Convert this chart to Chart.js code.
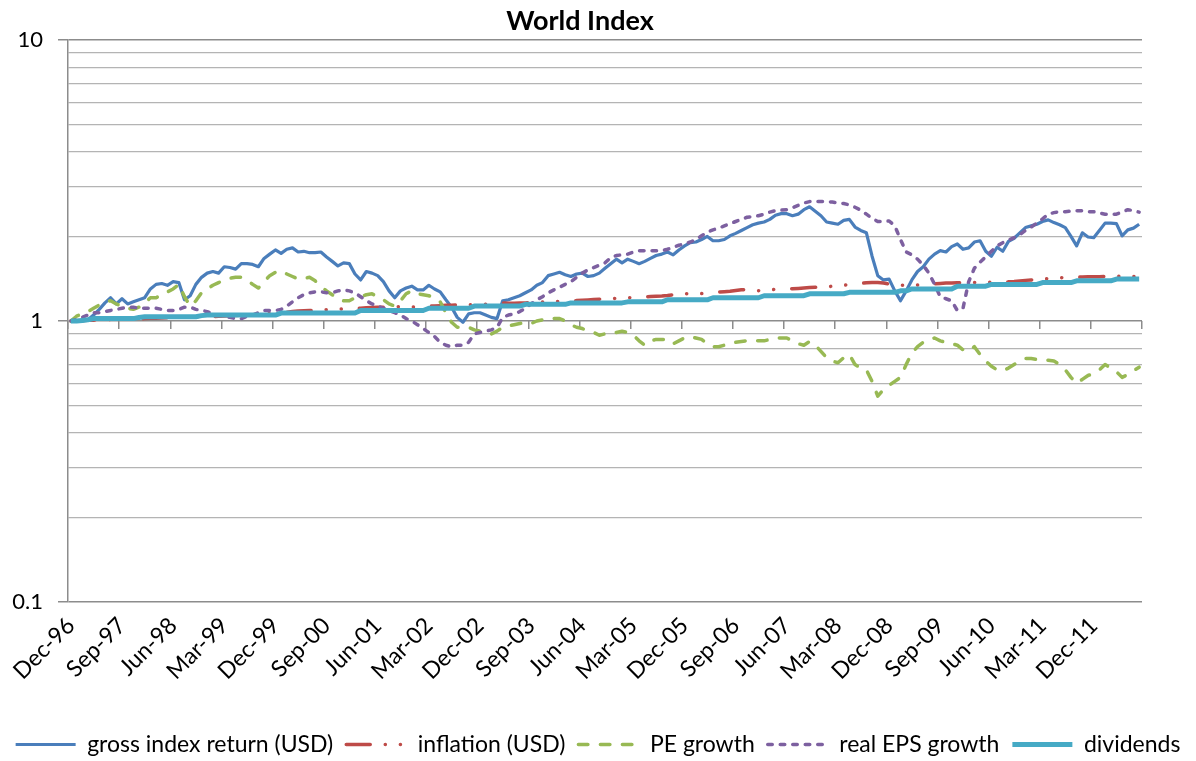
<!DOCTYPE html>
<html>
<head>
<meta charset="utf-8">
<title>World Index</title>
<script src="https://cdn.jsdelivr.net/npm/chart.js@4.4.1/dist/chart.umd.min.js"></script>
<style>
  html, body { margin: 0; padding: 0; background: #fff; }
  #wrap { position: relative; width: 1196px; height: 761px; }
  #title {
    position: absolute; left: 0; top: 4px; width: 1160px;
    text-align: center; font: bold 27px Lato, sans-serif; line-height: 32px; color: #000;
  }
</style>
</head>
<body>
<div id="wrap">
  <div id="title">World Index</div>
  <canvas id="chart"></canvas>
</div>
<script>
// Monthly categories, Dec-96 .. Aug-12 (189 months)
const MON = ['Jan','Feb','Mar','Apr','May','Jun','Jul','Aug','Sep','Oct','Nov','Dec'];
const months = [];
for (let i = 0; i < 189; i++) {
  const m = (11 + i) % 12, yr = (96 + Math.floor((11 + i) / 12)) % 100;
  months.push(MON[m] + '-' + String(yr).padStart(2, '0'));
}
// labels shown under the axis (every 9th month)
const shownMonths = ['Dec-96','Sep-97','Jun-98','Mar-99','Dec-99','Sep-00','Jun-01','Mar-02','Dec-02','Sep-03',
  'Jun-04','Mar-05','Dec-05','Sep-06','Jun-07','Mar-08','Dec-08','Sep-09','Jun-10','Mar-11','Dec-11'];

// log axis gridlines and the ones that carry a label
const yGrid = [0.1,0.2,0.3,0.4,0.5,0.6,0.7,0.8,0.9,1,2,3,4,5,6,7,8,9,10];
const yLabelled = [0.1, 1, 10];

// series (index, Dec-96 = 1)
const grossReturn = [
  1.00,1.00,1.00,1.01,1.05,1.10,1.16,1.21,1.15,1.20,1.15,1.17,
  1.19,1.21,1.30,1.35,1.36,1.34,1.38,1.37,1.19,1.23,1.35,1.43,
  1.48,1.50,1.48,1.56,1.55,1.53,1.60,1.60,1.59,1.56,1.67,1.73,
  1.79,1.74,1.80,1.82,1.76,1.77,1.75,1.75,1.76,1.69,1.63,1.57,
  1.61,1.60,1.47,1.40,1.50,1.48,1.45,1.38,1.28,1.21,1.28,1.31,
  1.33,1.29,1.29,1.34,1.30,1.27,1.19,1.12,1.03,0.99,1.06,1.07,
  1.07,1.05,1.03,1.02,1.18,1.19,1.21,1.23,1.26,1.29,1.34,1.37,
  1.45,1.47,1.49,1.46,1.44,1.47,1.48,1.44,1.45,1.48,1.54,1.60,
  1.66,1.61,1.66,1.63,1.60,1.63,1.67,1.71,1.73,1.76,1.72,1.79,
  1.85,1.90,1.91,1.95,2.00,1.93,1.93,1.95,2.01,2.05,2.10,2.15,
  2.20,2.23,2.25,2.30,2.38,2.41,2.41,2.37,2.40,2.49,2.55,2.46,
  2.37,2.25,2.23,2.21,2.28,2.30,2.16,2.10,2.06,1.70,1.45,1.40,
  1.41,1.28,1.18,1.28,1.40,1.50,1.56,1.66,1.73,1.78,1.76,1.84,
  1.88,1.80,1.82,1.91,1.93,1.77,1.70,1.83,1.77,1.92,1.97,2.06,
  2.15,2.18,2.21,2.26,2.29,2.24,2.20,2.15,2.00,1.85,2.06,1.99,
  1.98,2.10,2.23,2.23,2.22,2.01,2.11,2.14,2.21
];
const inflation = [
  1.000,1.003,1.005,1.006,1.007,1.008,1.010,1.012,1.014,1.016,1.017,1.017,
  1.018,1.020,1.022,1.023,1.025,1.027,1.028,1.030,1.031,1.032,1.033,1.034,
  1.035,1.037,1.039,1.042,1.045,1.047,1.049,1.051,1.053,1.056,1.059,1.063,
  1.067,1.070,1.074,1.080,1.085,1.087,1.090,1.092,1.095,1.097,1.100,1.102,
  1.104,1.106,1.108,1.110,1.114,1.118,1.120,1.120,1.121,1.123,1.124,1.122,
  1.122,1.123,1.125,1.129,1.131,1.134,1.137,1.138,1.140,1.141,1.142,1.143,
  1.145,1.147,1.150,1.155,1.158,1.157,1.156,1.158,1.160,1.163,1.166,1.168,
  1.170,1.172,1.175,1.178,1.180,1.182,1.185,1.188,1.192,1.196,1.199,1.200,
  1.204,1.207,1.210,1.212,1.215,1.219,1.222,1.225,1.228,1.233,1.240,1.248,
  1.250,1.250,1.249,1.252,1.256,1.263,1.268,1.272,1.277,1.285,1.292,1.290,
  1.285,1.282,1.284,1.290,1.296,1.300,1.302,1.303,1.306,1.310,1.315,1.318,
  1.320,1.323,1.330,1.335,1.340,1.347,1.353,1.360,1.368,1.372,1.370,1.365,
  1.355,1.345,1.340,1.340,1.342,1.343,1.345,1.350,1.355,1.360,1.364,1.366,
  1.368,1.369,1.370,1.372,1.372,1.373,1.373,1.374,1.375,1.378,1.382,1.388,
  1.395,1.400,1.405,1.410,1.415,1.420,1.425,1.428,1.430,1.432,1.434,1.436,
  1.437,1.438,1.440,1.441,1.442,1.441,1.440,1.440,1.442
];
const peGrowth = [
  1.00,1.04,1.06,1.08,1.11,1.14,1.17,1.18,1.15,1.13,1.11,1.10,
  1.12,1.16,1.21,1.21,1.24,1.27,1.30,1.35,1.22,1.13,1.18,1.26,
  1.30,1.34,1.37,1.40,1.42,1.43,1.43,1.40,1.35,1.31,1.38,1.45,
  1.49,1.51,1.47,1.44,1.41,1.42,1.43,1.39,1.33,1.28,1.24,1.20,
  1.18,1.18,1.21,1.22,1.24,1.25,1.22,1.19,1.15,1.13,1.18,1.25,
  1.28,1.25,1.24,1.23,1.21,1.17,1.07,0.99,0.95,0.95,0.95,0.93,
  0.92,0.91,0.90,0.92,0.95,0.96,0.97,0.98,0.99,0.98,1.00,1.01,
  1.02,1.02,1.02,1.00,0.97,0.95,0.94,0.92,0.91,0.89,0.90,0.90,
  0.91,0.92,0.91,0.89,0.85,0.82,0.85,0.86,0.86,0.86,0.83,0.85,
  0.87,0.88,0.87,0.86,0.83,0.81,0.81,0.82,0.83,0.84,0.845,0.85,
  0.85,0.85,0.85,0.86,0.87,0.87,0.87,0.85,0.83,0.82,0.845,0.82,
  0.78,0.74,0.72,0.71,0.74,0.76,0.70,0.68,0.67,0.61,0.54,0.57,
  0.59,0.61,0.63,0.70,0.77,0.81,0.84,0.86,0.87,0.85,0.84,0.83,
  0.82,0.79,0.78,0.81,0.76,0.72,0.69,0.67,0.665,0.68,0.70,0.72,
  0.735,0.735,0.73,0.73,0.725,0.72,0.70,0.67,0.63,0.60,0.62,0.64,
  0.65,0.67,0.70,0.68,0.66,0.63,0.645,0.665,0.685
];
const realEps = [
  1.00,1.01,1.03,1.05,1.07,1.07,1.08,1.09,1.10,1.11,1.12,1.12,
  1.11,1.11,1.11,1.11,1.10,1.09,1.09,1.10,1.12,1.12,1.10,1.09,
  1.08,1.06,1.05,1.04,1.03,1.02,1.02,1.04,1.05,1.07,1.09,1.09,
  1.09,1.10,1.13,1.17,1.21,1.24,1.26,1.27,1.27,1.26,1.26,1.28,
  1.29,1.28,1.26,1.22,1.18,1.15,1.13,1.11,1.09,1.07,1.05,1.02,
  1.00,0.97,0.94,0.91,0.88,0.84,0.82,0.81,0.82,0.82,0.84,0.90,
  0.91,0.92,0.93,0.95,1.03,1.05,1.06,1.08,1.11,1.15,1.19,1.22,
  1.26,1.29,1.32,1.35,1.38,1.43,1.48,1.52,1.55,1.58,1.61,1.68,
  1.71,1.72,1.73,1.76,1.78,1.78,1.78,1.78,1.78,1.80,1.83,1.86,
  1.88,1.91,1.95,2.01,2.07,2.11,2.14,2.18,2.22,2.26,2.30,2.34,
  2.35,2.37,2.40,2.44,2.47,2.48,2.49,2.53,2.58,2.63,2.66,2.66,
  2.66,2.66,2.65,2.63,2.62,2.59,2.54,2.48,2.40,2.32,2.26,2.26,
  2.27,2.18,1.95,1.76,1.72,1.66,1.58,1.48,1.35,1.22,1.20,1.18,
  1.09,1.11,1.38,1.54,1.62,1.69,1.77,1.85,1.90,1.94,1.98,2.03,
  2.10,2.16,2.23,2.31,2.40,2.43,2.45,2.45,2.46,2.47,2.47,2.45,
  2.45,2.42,2.40,2.40,2.40,2.44,2.49,2.47,2.44
];
const dividends = [
  1.000,1.000,1.005,1.010,1.020,1.020,1.020,1.020,1.020,1.020,1.020,1.020,
  1.030,1.035,1.035,1.035,1.035,1.035,1.035,1.035,1.035,1.035,1.035,1.045,
  1.050,1.050,1.050,1.050,1.050,1.050,1.050,1.050,1.050,1.050,1.050,1.050,
  1.050,1.067,1.067,1.067,1.067,1.067,1.067,1.067,1.067,1.067,1.067,1.067,
  1.067,1.067,1.067,1.090,1.090,1.090,1.090,1.090,1.090,1.090,1.090,1.090,
  1.090,1.090,1.090,1.110,1.110,1.110,1.110,1.110,1.110,1.110,1.110,1.130,
  1.130,1.130,1.130,1.130,1.130,1.130,1.130,1.130,1.146,1.146,1.146,1.146,
  1.146,1.146,1.146,1.146,1.160,1.160,1.160,1.160,1.160,1.160,1.160,1.160,
  1.160,1.160,1.170,1.170,1.170,1.170,1.170,1.170,1.170,1.190,1.190,1.190,
  1.190,1.190,1.190,1.190,1.190,1.210,1.210,1.210,1.210,1.210,1.210,1.210,
  1.210,1.210,1.230,1.230,1.230,1.230,1.230,1.230,1.230,1.230,1.250,1.250,
  1.250,1.250,1.250,1.250,1.250,1.265,1.265,1.265,1.265,1.265,1.265,1.265,
  1.265,1.265,1.280,1.280,1.300,1.300,1.300,1.300,1.300,1.300,1.300,1.300,
  1.330,1.330,1.330,1.330,1.330,1.330,1.350,1.350,1.350,1.350,1.350,1.350,
  1.350,1.350,1.350,1.370,1.370,1.370,1.370,1.370,1.370,1.390,1.390,1.390,
  1.390,1.390,1.390,1.390,1.410,1.410,1.410,1.410,1.410
];

const FONT = 'Lato';
const AXIS = '#8c8c8c';
const MINOR = '#b4b4b4';
const isMajor = v => yLabelled.includes(v);

const line = (label, data, color, width, dash, order) => ({
  label, data, order,
  borderColor: color, backgroundColor: color,
  borderWidth: width,
  borderDash: dash || [],
  borderCapStyle: dash ? 'round' : 'butt',
  borderJoinStyle: 'round',
  pointRadius: 0, tension: 0, fill: false,
});

// legend samples: take dash / width from the line itself, not from its points
function legendLabels(chart) {
  const items = Chart.defaults.plugins.legend.labels.generateLabels(chart);
  items.forEach(it => {
    const ds = chart.data.datasets[it.datasetIndex];
    it.lineDash = ds.borderDash;
    it.lineWidth = ds.borderWidth;
    it.lineCap = ds.borderCapStyle;
    it.strokeStyle = ds.borderColor;
  });
  return items.sort((a, b) => a.datasetIndex - b.datasetIndex);
}

new Chart(document.getElementById('chart'), {
  type: 'line',
  data: {
    labels: months,
    datasets: [
      // Excel draws the last series on top, so order runs backwards
      line('gross index return (USD)', grossReturn, '#4A7EBB', 3.2, null, 5),
      line('inflation (USD)', inflation, '#BE4B48', 3.5, [24, 15, 0.1, 15, 0.1, 18], 4),
      line('PE growth', peGrowth, '#98B954', 3.5, [9.5, 12.5], 3),
      line('real EPS growth', realEps, '#7D60A0', 3.5, [4.5, 8], 2),
      line('dividends', dividends, '#46AAC5', 5, null, 1),
    ]
  },
  options: {
    responsive: true,
    maintainAspectRatio: false,
    animation: false,
    events: [],
    layout: { padding: { top: 40, bottom: -5, left: 0, right: 0 } },
    plugins: {
      title: { display: false },
      tooltip: { enabled: false },
      legend: {
        position: 'bottom',
        labels: {
          usePointStyle: true,
          pointStyle: 'line',
          pointStyleWidth: 60,
          font: { family: FONT, size: 23 },
          color: '#000',
          padding: 13,
          generateLabels: legendLabels,
        }
      }
    },
    scales: {
      x: {
        type: 'category',
        offset: true,
        grid: { display: false, drawTicks: false },
        border: { display: false },
        ticks: {
          autoSkip: false, minRotation: 45, maxRotation: 45, padding: 10,
          font: { family: FONT, size: 23 }, color: '#000',
          callback: (v, i) => shownMonths.includes(months[i]) ? months[i] : '',
        },
        afterFit: s => { s.height = 118; s.paddingLeft = 0; s.paddingRight = 0; },
      },
      // second category axis crossing at 1, only for the little tick marks
      x2: {
        type: 'category',
        position: { y: 1 },
        offset: true,
        grid: {
          offset: true, drawOnChartArea: false, drawTicks: true, tickLength: 8, lineWidth: 1.5,
          tickColor: ctx => (ctx.index === undefined || ctx.index % 9 === 0) ? AXIS : 'rgba(0,0,0,0)',
        },
        border: { display: false },
        ticks: { display: false },
      },
      y: {
        type: 'logarithmic',
        min: 0.1, max: 10,
        afterBuildTicks: s => { s.ticks = yGrid.map(v => ({ value: v, major: isMajor(v) })); },
        afterFit: s => { s.width = 68; s.paddingTop = 0; s.paddingBottom = 0; },
        ticks: {
          autoSkip: false, padding: 15,
          font: { family: FONT, size: 22 }, color: '#000',
          callback: v => isMajor(v) ? String(v) : '',
        },
        grid: {
          color: ctx => isMajor(ctx.tick.value) ? AXIS : MINOR,
          lineWidth: ctx => isMajor(ctx.tick.value) ? 1.5 : 1.2,
          tickLength: 10,
          tickColor: ctx => isMajor(ctx.tick.value) ? AXIS : 'rgba(0,0,0,0)',
        },
        border: { color: AXIS, width: 1.5 },
      },
      // empty right-hand axis that just keeps the plot clear of the right edge
      yR: {
        type: 'linear',
        position: 'right',
        grid: { display: false, drawTicks: false },
        border: { display: false },
        ticks: { display: false },
        afterFit: s => { s.width = 54; },
      }
    }
  }
});
</script>
</body>
</html>
